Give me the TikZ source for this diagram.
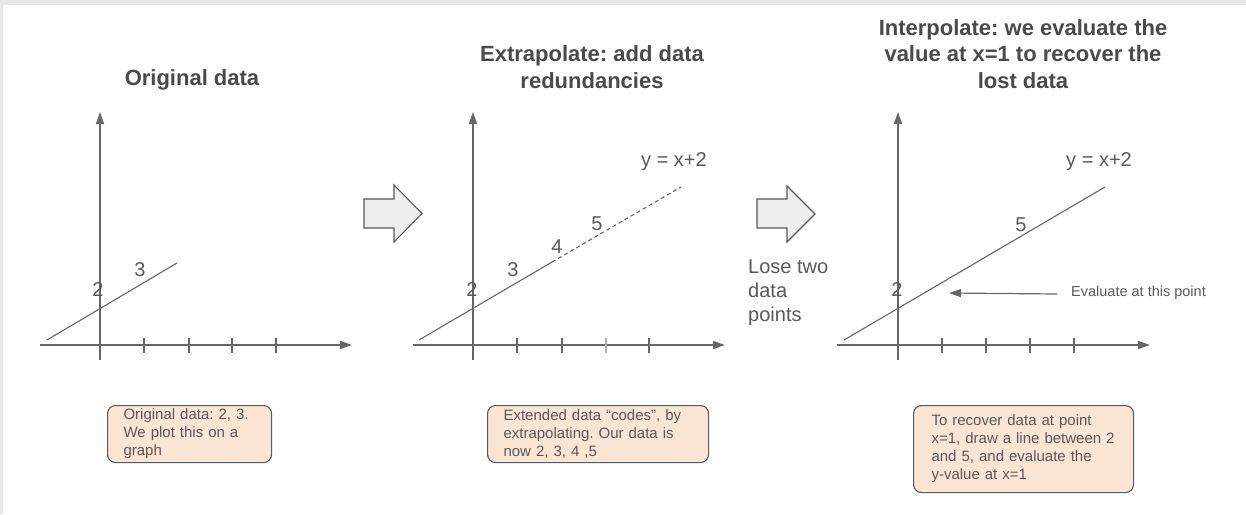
\documentclass[tikz,border=0pt]{standalone}
\usepackage{fontspec}
\setmainfont{Liberation Sans}
\usetikzlibrary{arrows.meta}
\frenchspacing
\definecolor{txtgray}{HTML}{595959}
\definecolor{ttlgray}{HTML}{4A4A4A}
\definecolor{linegray}{HTML}{666666}
\definecolor{peach}{RGB}{250,228,211}
\definecolor{bandgray}{HTML}{E8E8E8}
\definecolor{arrowfill}{HTML}{EEEEEE}
\tikzset{
  axis/.style={draw=linegray, line width=1.4pt, -{Triangle[length=12pt,width=8pt]}},
  tickline/.style={draw=linegray, line width=1.2pt},
  graphline/.style={draw=linegray, line width=1.1pt},
  ttl/.style={text=ttlgray, font=\fontsize{22}{26.5}\selectfont\bfseries, align=center, inner sep=0pt},
  num/.style={text=txtgray, font=\fontsize{20}{24}\selectfont, inner sep=0pt},
  boxnote/.style={draw=txtgray, fill=peach, rounded corners=8pt, line width=1.1pt,
    text=txtgray, font=\fontsize{15}{18}\selectfont, align=left, inner xsep=16pt,
    inner ysep=0pt, anchor=north west},
  blockarrow/.style={draw=txtgray, fill=arrowfill, line width=1.1pt, line join=miter},
}
\begin{document}
\begin{tikzpicture}[x=1pt,y=-1pt]
\useasboundingbox (0,0) rectangle (1246,514);
\fill[white] (0,0) rectangle (1246,514);
\fill[bandgray] (0,0) rectangle (1246,4.5);
\fill[bandgray] (0,0) rectangle (3,514);

% ---------- Panel 1 ----------
\node[ttl] (t1) at (192,80) {Original data};
\coordinate (y1b) at (100,360); \coordinate (y1t) at (100,112);
\coordinate (x1l) at (40,345);  \coordinate (x1r) at (352,345);
\draw[axis] (y1b) -- (y1t);
\draw[axis] (x1l) -- (x1r);
\foreach \x in {144,189,232,276} \draw[tickline] (\x,338) -- (\x,353);
\coordinate (g1a) at (47,340); \coordinate (g1b) at (177,263);
\draw[graphline] (g1a) -- (g1b);
\node[num] (n12) at (98,290) {2};
\node[num] (n13) at (140,270) {3};
\node[boxnote, minimum width=164pt, minimum height=57pt, text width=132pt] (b1) at (107,405)
  {Original data: 2, 3.\\We plot this on a\\graph};

% block arrow 1
\draw[blockarrow] (364,199) -- (394,199) -- (394,185) -- (422,213.5) -- (394,242) -- (394,228) -- (364,228) -- cycle;

% ---------- Panel 2 ----------
\node[ttl] (t2) at (592,67) {Extrapolate: add data\\redundancies};
\coordinate (y2b) at (473,360); \coordinate (y2t) at (473,112);
\coordinate (x2l) at (413,345); \coordinate (x2r) at (725,345);
\draw[axis] (y2b) -- (y2t);
\draw[axis] (x2l) -- (x2r);
\foreach \x in {517,562,649} \draw[tickline] (\x,338) -- (\x,353);
\draw[tickline, draw=linegray!50] (606,338) -- (606,353);
\coordinate (g2a) at (419,340); \coordinate (g2m) at (552,262); \coordinate (g2b) at (681,187);
\draw[graphline] (g2a) -- (g2m);
\draw[graphline, dash pattern=on 4pt off 3pt] (g2m) -- (g2b);
\node[num] (n22) at (472,290) {2};
\node[num] (n23) at (513,270) {3};
\node[num] (n24) at (557,247) {4};
\node[num] (n25) at (597,224) {5};
\node[num] (eq2) at (674,162) {y = x+2};
\node[boxnote, minimum width=221pt, minimum height=57pt, text width=189pt] (b2) at (487,405)
  {Extended data “codes”, by\\extrapolating. Our data is\\now 2, 3, 4 ,5};

% block arrow 2
\draw[blockarrow] (757,199) -- (787,199) -- (787,186) -- (815,214) -- (787,242) -- (787,228) -- (757,228) -- cycle;
\node[num, anchor=west, align=left] (lose) at (748,293) {Lose two\\data\\points};

% ---------- Panel 3 ----------
\node[ttl] (t3) at (1023,54) {Interpolate: we evaluate the\\value at x=1 to recover the\\lost data};
\coordinate (y3b) at (898,360); \coordinate (y3t) at (898,112);
\coordinate (x3l) at (837,345); \coordinate (x3r) at (1150,345);
\draw[axis] (y3b) -- (y3t);
\draw[axis] (x3l) -- (x3r);
\foreach \x in {942,986,1030,1074} \draw[tickline] (\x,338) -- (\x,353);
\coordinate (g3a) at (844,340); \coordinate (g3b) at (1105,187);
\draw[graphline] (g3a) -- (g3b);
\node[num] (n32) at (897,290) {2};
\node[num] (n35) at (1021,225) {5};
\node[num] (eq3) at (1099,162) {y = x+2};
\node[text=txtgray, font=\fontsize{14.5}{18}\selectfont, anchor=west, inner sep=0pt] (eval) at (1071,293) {Evaluate at this point};
\coordinate (evs) at (1057,294); \coordinate (eve) at (949,293);
\draw[draw=linegray, line width=1.2pt, -{Triangle[length=12pt,width=8pt]}] (evs) -- (eve);
\node[boxnote, minimum width=220pt, minimum height=87pt, inner xsep=18pt, text width=184pt] (b3) at (913,405)
  {To recover data at point\\x=1, draw a line between 2\\and 5, and evaluate the\\y-value at x=1};
\end{tikzpicture}
\end{document}
